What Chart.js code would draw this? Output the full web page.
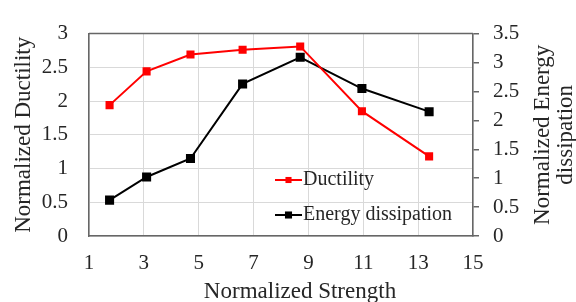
<!DOCTYPE html>
<html>
<head>
<meta charset="utf-8">
<script src="https://cdn.jsdelivr.net/npm/chart.js@4"></script>
<style>
  html, body { margin: 0; padding: 0; background: #fff; }
  #wrap { width: 576px; height: 302px; }
</style>
</head>
<body>
<div id="wrap"><canvas id="chart" width="576" height="302"></canvas></div>
<script>
const strength  = [1.75, 3.1, 4.7, 6.6, 8.7, 10.95, 13.4];
const ductility = [1.94, 2.44, 2.69, 2.76, 2.81, 1.85, 1.18];
const energy    = [0.62, 1.02, 1.34, 2.63, 3.09, 2.55, 2.15];

const xTitle = 'Normalized Strength';
const yTitle = 'Normalized Ductility';
const y1Title = ['Normalized Energy', 'dissipation'];

const FONT = "'Liberation Serif', 'Times New Roman', serif";
const TEXT = '#262626';
const AXIS = '#666666';
const GRID = '#d9d9d9';

const ctx = document.getElementById('chart').getContext('2d');

const plain = v => String(v);

// top border, custom titles and in-plot legend
const extras = {
  id: 'extras',
  afterDraw(chart) {
    const c = chart.ctx;
    const a = chart.chartArea;
    c.save();
    c.strokeStyle = AXIS;
    c.lineWidth = 1.5;
    c.beginPath();
    c.moveTo(a.left, a.top);
    c.lineTo(a.right, a.top);
    c.stroke();

    c.fillStyle = TEXT;
    c.font = '23px ' + FONT;
    c.textAlign = 'center';
    c.textBaseline = 'middle';
    c.fillText(xTitle, 300, 292);

    c.save();
    c.translate(543, (a.top + a.bottom) / 2);
    c.rotate(-Math.PI / 2);
    y1Title.forEach((t, i) => c.fillText(t, 0, i * 23));
    c.restore();

    // legend
    c.font = '20px ' + FONT;
    c.textAlign = 'left';
    const rows = [180, 215];
    chart.data.datasets.forEach((ds, i) => {
      const y = rows[i];
      c.strokeStyle = ds.borderColor;
      c.lineWidth = 2;
      c.beginPath();
      c.moveTo(275, y);
      c.lineTo(302, y);
      c.stroke();
      const s = ds.pointRadius * Math.SQRT1_2;
      c.fillStyle = ds.backgroundColor;
      c.fillRect(288.5 - s, y - s, 2 * s, 2 * s);
      c.fillStyle = TEXT;
      c.fillText(ds.label, 303, y);
    });
    c.restore();
  }
};

new Chart(ctx, {
  type: 'line',
  data: {
    datasets: [
      {
        label: 'Ductility',
        data: strength.map((x, i) => ({ x: x, y: ductility[i] })),
        borderColor: '#ff0000',
        backgroundColor: '#ff0000',
        borderWidth: 2,
        pointStyle: 'rect',
        pointRadius: 4.3,
        yAxisID: 'y'
      },
      {
        label: 'Energy dissipation',
        data: strength.map((x, i) => ({ x: x, y: energy[i] })),
        borderColor: '#000000',
        backgroundColor: '#000000',
        borderWidth: 2,
        pointStyle: 'rect',
        pointRadius: 5,
        yAxisID: 'y1'
      }
    ]
  },
  options: {
    responsive: false,
    animation: false,
    layout: { padding: { top: 24, left: 0, right: 0, bottom: 0 } },
    plugins: {
      legend: { display: false },
      tooltip: { enabled: false }
    },
    scales: {
      x: {
        type: 'linear',
        min: 1,
        max: 15,
        afterFit: s => { s.height = 66; },
        ticks: {
          stepSize: 2,
          padding: 15,
          color: TEXT,
          callback: plain,
          font: { family: FONT, size: 21 }
        },
        grid: { color: GRID, lineWidth: 1, drawTicks: false },
        border: { color: AXIS, width: 1.5 }
      },
      y: {
        position: 'left',
        min: 0,
        max: 3,
        afterFit: s => { s.width = 89; },
        ticks: {
          stepSize: 0.5,
          padding: 21,
          color: TEXT,
          callback: plain,
          font: { family: FONT, size: 21 }
        },
        grid: { color: GRID, lineWidth: 1, drawTicks: false },
        border: { color: AXIS, width: 1.5 },
        title: {
          display: true,
          text: yTitle,
          color: TEXT,
          padding: { top: 12, bottom: 0 },
          font: { family: FONT, size: 23, lineHeight: 1 }
        }
      },
      y1: {
        position: 'right',
        min: 0,
        max: 3.5,
        afterFit: s => { s.width = 103; },
        ticks: {
          stepSize: 0.5,
          padding: 14,
          color: TEXT,
          callback: plain,
          font: { family: FONT, size: 21 }
        },
        grid: { drawOnChartArea: false, color: AXIS, lineWidth: 1.5, tickLength: 6 },
        border: { color: AXIS, width: 1.5 }
      }
    }
  },
  plugins: [extras]
});
</script>
</body>
</html>
